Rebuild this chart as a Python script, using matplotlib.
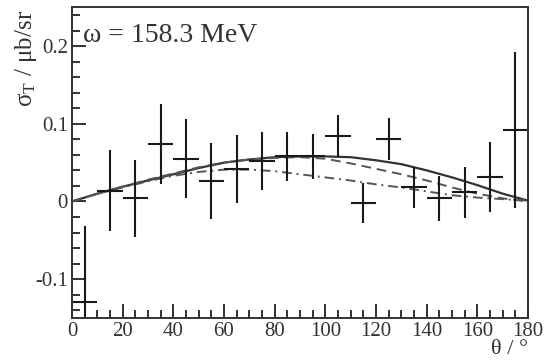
import numpy as np
import matplotlib
matplotlib.use('Agg')
import matplotlib.pyplot as plt
from matplotlib.ticker import MultipleLocator

plt.rcParams['font.family'] = ['Liberation Serif', 'DejaVu Serif']
plt.rcParams['mathtext.fontset'] = 'custom'
plt.rcParams['mathtext.rm'] = 'Liberation Serif'
plt.rcParams['mathtext.it'] = 'Liberation Serif:italic'
plt.rcParams['axes.unicode_minus'] = False

# data points (10 deg bins)
theta = [5, 15, 25, 35, 45, 55, 65, 75, 85, 95, 105, 115, 125, 135, 145, 155, 165, 175]
sigma = [-0.130, 0.014, 0.004, 0.074, 0.055, 0.026, 0.042, 0.052, 0.058, 0.058,
         0.084, -0.002, 0.081, 0.018, 0.004, 0.012, 0.032, 0.092]
sigma_err = [0.099, 0.052, 0.050, 0.051, 0.051, 0.049, 0.044, 0.037, 0.032, 0.029,
             0.027, 0.026, 0.027, 0.027, 0.029, 0.033, 0.045, 0.100]
theta_err = 5

# model curves
theta_curve = [0, 10, 20, 30, 40, 50, 60, 70, 80, 90, 100, 110, 120, 130, 140, 150, 160, 170, 180]
solid = [0, 0.010, 0.019, 0.027, 0.035, 0.043, 0.050, 0.054, 0.057, 0.058,
         0.058, 0.057, 0.053, 0.048, 0.040, 0.031, 0.021, 0.010, 0.001]
dashed = [0, 0.010, 0.019, 0.028, 0.036, 0.044, 0.050, 0.054, 0.056, 0.057,
          0.055, 0.049, 0.042, 0.035, 0.027, 0.018, 0.010, 0.004, 0.0]
dashdot = [0, 0.010, 0.018, 0.026, 0.033, 0.038, 0.041, 0.041, 0.039, 0.035,
           0.031, 0.027, 0.022, 0.018, 0.013, 0.008, 0.005, 0.003, 0.001]

yticks = [-0.1, 0, 0.1, 0.2]
yticklabels = ['-0.1', '0', '0.1', '0.2']

fig = plt.figure(figsize=(5.45, 3.63), dpi=100)
ax = fig.add_axes([0.132, 0.124, 0.837, 0.856])

ax.plot(theta_curve, solid, color='#333333', lw=1.6, ls='-')
ax.plot(theta_curve, dashed, color='#555555', lw=1.4, ls=(0, (5, 3)))
ax.plot(theta_curve, dashdot, color='#555555', lw=1.4, ls=(0, (5, 2.5, 1, 2.5)))

ax.errorbar(theta, sigma, yerr=sigma_err, xerr=theta_err, fmt='none',
            ecolor='#1a1a1a', elinewidth=1.5, capsize=0)

ax.set_xlim(0, 180)
ax.set_ylim(-0.15, 0.25)
ax.xaxis.set_major_locator(MultipleLocator(20))
ax.xaxis.set_minor_locator(MultipleLocator(5))
ax.set_yticks(yticks)
ax.set_yticklabels(yticklabels)
ax.yaxis.set_minor_locator(MultipleLocator(0.02))

ax.tick_params(which='both', direction='in', top=False, right=False,
               labelsize=15, width=1.4, colors='#333333', labelcolor='#333333')
ax.tick_params(which='major', length=10, pad=3)
ax.tick_params(which='minor', length=6)
for s in ax.spines.values():
    s.set_linewidth(1.4)
    s.set_color('#333333')

ax.text(0.025, 0.95, 'ω = 158.3 MeV', transform=ax.transAxes, fontsize=20,
        color='#333333', ha='left', va='top')

ax.set_ylabel('σ$_\\mathrm{T}$ / μb/sr', loc='top', fontsize=18, color='#333333')
ax.yaxis.set_label_coords(-0.073, 0.99)
ax.set_xlabel('θ / °', loc='right', fontsize=16, color='#333333', labelpad=-1)

fig.savefig('out.png', dpi=100)
